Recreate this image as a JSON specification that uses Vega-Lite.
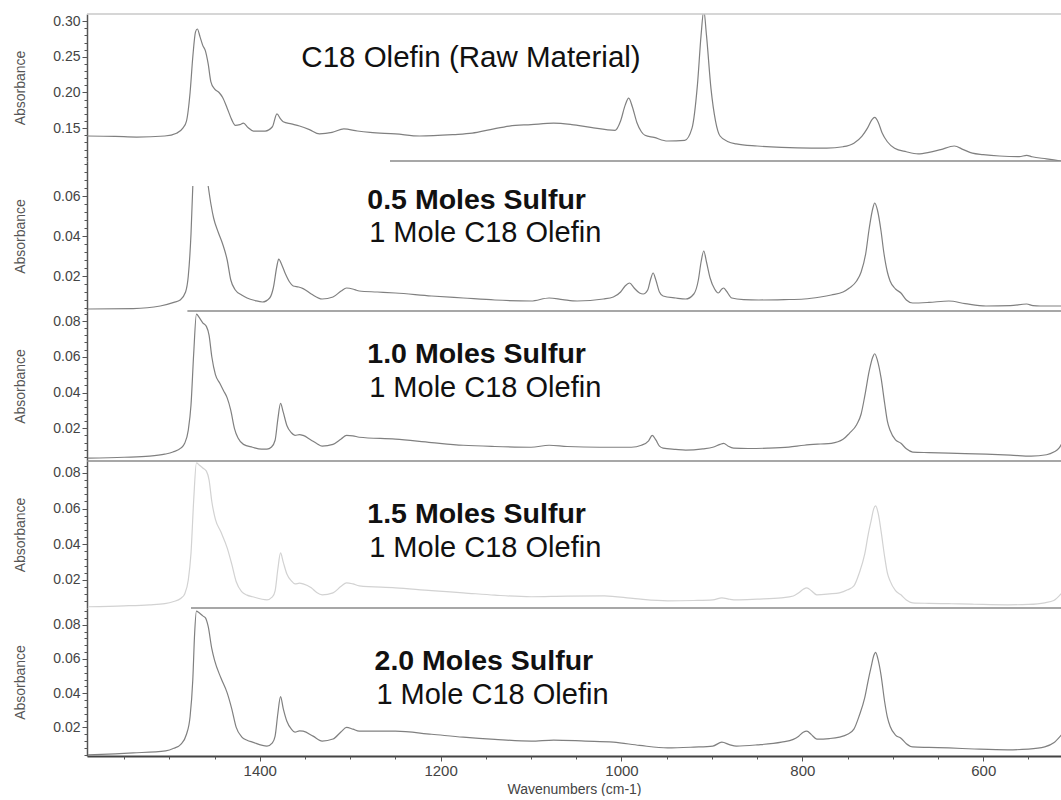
{
"$schema":"https://vega.github.io/schema/vega-lite/v6.json",
"padding":{"left":13,"top":13,"right":0,"bottom":0},
"autosize":{"type":"pad"},
"background":"white",
"spacing":0,
"bounds":"flush",
"config":{"view":{"stroke":null},"font":"Liberation Sans",
 "axis":{"grid":false,"labelFont":"Liberation Sans","titleFont":"Liberation Sans","labelColor":"#444","titleColor":"#555","titleFontWeight":"normal","tickColor":"#555","domainColor":"#555","labelFlush":false,"labelOverlap":false}},
"datasets":{
"spectra":[
{"s":"raw","g":1,"wn":1591,"a":0.139},{"s":"raw","g":1,"wn":1560,"a":0.1385},{"s":"raw","g":1,"wn":1536,"a":0.1375},{"s":"raw","g":1,"wn":1505,"a":0.139},{"s":"raw","g":1,"wn":1492,"a":0.143},{"s":"raw","g":1,"wn":1485,"a":0.15},{"s":"raw","g":1,"wn":1481,"a":0.16},{"s":"raw","g":1,"wn":1477,"a":0.2},{"s":"raw","g":1,"wn":1474,"a":0.25},{"s":"raw","g":1,"wn":1471,"a":0.285},{"s":"raw","g":1,"wn":1469,"a":0.289},{"s":"raw","g":1,"wn":1466,"a":0.278},{"s":"raw","g":1,"wn":1463,"a":0.266},{"s":"raw","g":1,"wn":1460,"a":0.258},{"s":"raw","g":1,"wn":1457,"a":0.24},{"s":"raw","g":1,"wn":1454,"a":0.215},{"s":"raw","g":1,"wn":1450,"a":0.205},{"s":"raw","g":1,"wn":1445,"a":0.2},{"s":"raw","g":1,"wn":1441,"a":0.193},{"s":"raw","g":1,"wn":1436,"a":0.178},{"s":"raw","g":1,"wn":1431,"a":0.162},{"s":"raw","g":1,"wn":1427,"a":0.154},{"s":"raw","g":1,"wn":1422,"a":0.155},{"s":"raw","g":1,"wn":1418,"a":0.157},{"s":"raw","g":1,"wn":1413,"a":0.151},{"s":"raw","g":1,"wn":1407,"a":0.146},{"s":"raw","g":1,"wn":1394,"a":0.146},{"s":"raw","g":1,"wn":1386,"a":0.152},{"s":"raw","g":1,"wn":1381,"a":0.17},{"s":"raw","g":1,"wn":1377,"a":0.163},{"s":"raw","g":1,"wn":1374,"a":0.159},{"s":"raw","g":1,"wn":1365,"a":0.156},{"s":"raw","g":1,"wn":1356,"a":0.153},{"s":"raw","g":1,"wn":1345,"a":0.148},{"s":"raw","g":1,"wn":1334,"a":0.142},{"s":"raw","g":1,"wn":1320,"a":0.144},{"s":"raw","g":1,"wn":1307,"a":0.149},{"s":"raw","g":1,"wn":1292,"a":0.146},{"s":"raw","g":1,"wn":1278,"a":0.144},{"s":"raw","g":1,"wn":1250,"a":0.142},{"s":"raw","g":1,"wn":1223,"a":0.139},{"s":"raw","g":1,"wn":1186,"a":0.141},{"s":"raw","g":1,"wn":1165,"a":0.143},{"s":"raw","g":1,"wn":1145,"a":0.148},{"s":"raw","g":1,"wn":1124,"a":0.153},{"s":"raw","g":1,"wn":1100,"a":0.155},{"s":"raw","g":1,"wn":1075,"a":0.157},{"s":"raw","g":1,"wn":1055,"a":0.155},{"s":"raw","g":1,"wn":1034,"a":0.151},{"s":"raw","g":1,"wn":1007,"a":0.147},{"s":"raw","g":1,"wn":1001,"a":0.16},{"s":"raw","g":1,"wn":996,"a":0.182},{"s":"raw","g":1,"wn":992,"a":0.192},{"s":"raw","g":1,"wn":988,"a":0.18},{"s":"raw","g":1,"wn":983,"a":0.158},{"s":"raw","g":1,"wn":978,"a":0.145},{"s":"raw","g":1,"wn":974,"a":0.14},{"s":"raw","g":1,"wn":964,"a":0.137},{"s":"raw","g":1,"wn":949,"a":0.132},{"s":"raw","g":1,"wn":930,"a":0.133},{"s":"raw","g":1,"wn":922,"a":0.15},{"s":"raw","g":1,"wn":916,"a":0.211},{"s":"raw","g":1,"wn":912,"a":0.28},{"s":"raw","g":1,"wn":909,"a":0.315},{"s":"raw","g":1,"wn":906,"a":0.28},{"s":"raw","g":1,"wn":901,"a":0.205},{"s":"raw","g":1,"wn":896,"a":0.16},{"s":"raw","g":1,"wn":891,"a":0.139},{"s":"raw","g":1,"wn":882,"a":0.131},{"s":"raw","g":1,"wn":873,"a":0.128},{"s":"raw","g":1,"wn":850,"a":0.125},{"s":"raw","g":1,"wn":823,"a":0.123},{"s":"raw","g":1,"wn":790,"a":0.122},{"s":"raw","g":1,"wn":773,"a":0.122},{"s":"raw","g":1,"wn":755,"a":0.124},{"s":"raw","g":1,"wn":743,"a":0.129},{"s":"raw","g":1,"wn":734,"a":0.139},{"s":"raw","g":1,"wn":728,"a":0.15},{"s":"raw","g":1,"wn":723,"a":0.162},{"s":"raw","g":1,"wn":720,"a":0.165},{"s":"raw","g":1,"wn":716,"a":0.158},{"s":"raw","g":1,"wn":712,"a":0.144},{"s":"raw","g":1,"wn":706,"a":0.131},{"s":"raw","g":1,"wn":698,"a":0.122},{"s":"raw","g":1,"wn":685,"a":0.117},{"s":"raw","g":1,"wn":672,"a":0.114},{"s":"raw","g":1,"wn":660,"a":0.116},{"s":"raw","g":1,"wn":647,"a":0.12},{"s":"raw","g":1,"wn":632,"a":0.125},{"s":"raw","g":1,"wn":622,"a":0.12},{"s":"raw","g":1,"wn":612,"a":0.115},{"s":"raw","g":1,"wn":600,"a":0.113},{"s":"raw","g":1,"wn":582,"a":0.111},{"s":"raw","g":1,"wn":560,"a":0.11},{"s":"raw","g":1,"wn":552,"a":0.112},{"s":"raw","g":1,"wn":546,"a":0.11},{"s":"raw","g":1,"wn":530,"a":0.107},{"s":"raw","g":1,"wn":514,"a":0.104},

{"s":"s05","g":1,"wn":1590,"a":0.0035},{"s":"s05","g":1,"wn":1540,"a":0.0037},{"s":"s05","g":1,"wn":1510,"a":0.005},{"s":"s05","g":1,"wn":1495,"a":0.0068},{"s":"s05","g":1,"wn":1488,"a":0.008},{"s":"s05","g":1,"wn":1482,"a":0.012},{"s":"s05","g":1,"wn":1479,"a":0.02},{"s":"s05","g":1,"wn":1476,"a":0.041},{"s":"s05","g":1,"wn":1474,"a":0.065},
{"s":"s05","g":2,"wn":1457,"a":0.065},{"s":"s05","g":2,"wn":1454,"a":0.056},{"s":"s05","g":2,"wn":1451,"a":0.049},{"s":"s05","g":2,"wn":1446,"a":0.042},{"s":"s05","g":2,"wn":1441,"a":0.036},{"s":"s05","g":2,"wn":1436,"a":0.028},{"s":"s05","g":2,"wn":1432,"a":0.018},{"s":"s05","g":2,"wn":1427,"a":0.013},{"s":"s05","g":2,"wn":1420,"a":0.0105},{"s":"s05","g":2,"wn":1414,"a":0.009},{"s":"s05","g":2,"wn":1405,"a":0.0077},{"s":"s05","g":2,"wn":1397,"a":0.007},{"s":"s05","g":2,"wn":1389,"a":0.009},{"s":"s05","g":2,"wn":1385,"a":0.014},{"s":"s05","g":2,"wn":1381,"a":0.025},{"s":"s05","g":2,"wn":1379,"a":0.0285},{"s":"s05","g":2,"wn":1376,"a":0.026},{"s":"s05","g":2,"wn":1372,"a":0.0215},{"s":"s05","g":2,"wn":1367,"a":0.017},{"s":"s05","g":2,"wn":1363,"a":0.015},{"s":"s05","g":2,"wn":1357,"a":0.0145},{"s":"s05","g":2,"wn":1352,"a":0.0137},{"s":"s05","g":2,"wn":1343,"a":0.011},{"s":"s05","g":2,"wn":1331,"a":0.0085},{"s":"s05","g":2,"wn":1319,"a":0.0095},{"s":"s05","g":2,"wn":1310,"a":0.0125},{"s":"s05","g":2,"wn":1304,"a":0.014},{"s":"s05","g":2,"wn":1295,"a":0.0132},{"s":"s05","g":2,"wn":1290,"a":0.0125},{"s":"s05","g":2,"wn":1270,"a":0.012},{"s":"s05","g":2,"wn":1250,"a":0.0115},{"s":"s05","g":2,"wn":1210,"a":0.01},{"s":"s05","g":2,"wn":1175,"a":0.009},{"s":"s05","g":2,"wn":1140,"a":0.008},{"s":"s05","g":2,"wn":1100,"a":0.0075},{"s":"s05","g":2,"wn":1080,"a":0.009},{"s":"s05","g":2,"wn":1065,"a":0.0082},{"s":"s05","g":2,"wn":1049,"a":0.0075},{"s":"s05","g":2,"wn":1020,"a":0.0085},{"s":"s05","g":2,"wn":1009,"a":0.0095},{"s":"s05","g":2,"wn":1001,"a":0.012},{"s":"s05","g":2,"wn":996,"a":0.015},{"s":"s05","g":2,"wn":991,"a":0.0165},{"s":"s05","g":2,"wn":986,"a":0.014},{"s":"s05","g":2,"wn":980,"a":0.0115},{"s":"s05","g":2,"wn":976,"a":0.011},{"s":"s05","g":2,"wn":971,"a":0.013},{"s":"s05","g":2,"wn":968,"a":0.018},{"s":"s05","g":2,"wn":965,"a":0.0215},{"s":"s05","g":2,"wn":962,"a":0.018},{"s":"s05","g":2,"wn":958,"a":0.012},{"s":"s05","g":2,"wn":954,"a":0.01},{"s":"s05","g":2,"wn":940,"a":0.009},{"s":"s05","g":2,"wn":929,"a":0.0085},{"s":"s05","g":2,"wn":920,"a":0.011},{"s":"s05","g":2,"wn":915,"a":0.018},{"s":"s05","g":2,"wn":912,"a":0.027},{"s":"s05","g":2,"wn":909,"a":0.0325},{"s":"s05","g":2,"wn":906,"a":0.027},{"s":"s05","g":2,"wn":902,"a":0.019},{"s":"s05","g":2,"wn":897,"a":0.0135},{"s":"s05","g":2,"wn":893,"a":0.0115},{"s":"s05","g":2,"wn":889,"a":0.0135},{"s":"s05","g":2,"wn":887,"a":0.014},{"s":"s05","g":2,"wn":884,"a":0.0125},{"s":"s05","g":2,"wn":878,"a":0.009},{"s":"s05","g":2,"wn":865,"a":0.0082},{"s":"s05","g":2,"wn":848,"a":0.008},{"s":"s05","g":2,"wn":820,"a":0.0082},{"s":"s05","g":2,"wn":798,"a":0.0085},{"s":"s05","g":2,"wn":780,"a":0.0095},{"s":"s05","g":2,"wn":768,"a":0.0105},{"s":"s05","g":2,"wn":755,"a":0.012},{"s":"s05","g":2,"wn":748,"a":0.014},{"s":"s05","g":2,"wn":740,"a":0.0175},{"s":"s05","g":2,"wn":735,"a":0.022},{"s":"s05","g":2,"wn":730,"a":0.031},{"s":"s05","g":2,"wn":726,"a":0.044},{"s":"s05","g":2,"wn":722,"a":0.054},{"s":"s05","g":2,"wn":720,"a":0.0565},{"s":"s05","g":2,"wn":717,"a":0.053},{"s":"s05","g":2,"wn":713,"a":0.0425},{"s":"s05","g":2,"wn":710,"a":0.032},{"s":"s05","g":2,"wn":706,"a":0.022},{"s":"s05","g":2,"wn":703,"a":0.0175},{"s":"s05","g":2,"wn":697,"a":0.0135},{"s":"s05","g":2,"wn":691,"a":0.0115},{"s":"s05","g":2,"wn":685,"a":0.008},{"s":"s05","g":2,"wn":678,"a":0.0065},{"s":"s05","g":2,"wn":660,"a":0.0068},{"s":"s05","g":2,"wn":638,"a":0.0075},{"s":"s05","g":2,"wn":620,"a":0.0062},{"s":"s05","g":2,"wn":597,"a":0.005},{"s":"s05","g":2,"wn":570,"a":0.0052},{"s":"s05","g":2,"wn":552,"a":0.006},{"s":"s05","g":2,"wn":545,"a":0.0052},{"s":"s05","g":2,"wn":537,"a":0.005},{"s":"s05","g":2,"wn":513,"a":0.005},

{"s":"s10","g":1,"wn":1590,"a":0.0033},{"s":"s10","g":1,"wn":1550,"a":0.0038},{"s":"s10","g":1,"wn":1522,"a":0.0044},{"s":"s10","g":1,"wn":1505,"a":0.0055},{"s":"s10","g":1,"wn":1496,"a":0.0067},{"s":"s10","g":1,"wn":1487,"a":0.009},{"s":"s10","g":1,"wn":1483,"a":0.0116},{"s":"s10","g":1,"wn":1479,"a":0.019},{"s":"s10","g":1,"wn":1476,"a":0.033},{"s":"s10","g":1,"wn":1473,"a":0.062},{"s":"s10","g":1,"wn":1470,"a":0.0839},{"s":"s10","g":1,"wn":1467,"a":0.082},{"s":"s10","g":1,"wn":1463,"a":0.079},{"s":"s10","g":1,"wn":1459,"a":0.077},{"s":"s10","g":1,"wn":1456,"a":0.072},{"s":"s10","g":1,"wn":1453,"a":0.06},{"s":"s10","g":1,"wn":1449,"a":0.05},{"s":"s10","g":1,"wn":1444,"a":0.045},{"s":"s10","g":1,"wn":1440,"a":0.041},{"s":"s10","g":1,"wn":1436,"a":0.037},{"s":"s10","g":1,"wn":1432,"a":0.03},{"s":"s10","g":1,"wn":1428,"a":0.02},{"s":"s10","g":1,"wn":1424,"a":0.0145},{"s":"s10","g":1,"wn":1418,"a":0.011},{"s":"s10","g":1,"wn":1408,"a":0.0094},{"s":"s10","g":1,"wn":1398,"a":0.0083},{"s":"s10","g":1,"wn":1392,"a":0.0083},{"s":"s10","g":1,"wn":1387,"a":0.0095},{"s":"s10","g":1,"wn":1383,"a":0.0133},{"s":"s10","g":1,"wn":1380,"a":0.025},{"s":"s10","g":1,"wn":1377,"a":0.0339},{"s":"s10","g":1,"wn":1374,"a":0.029},{"s":"s10","g":1,"wn":1370,"a":0.0216},{"s":"s10","g":1,"wn":1365,"a":0.0175},{"s":"s10","g":1,"wn":1361,"a":0.016},{"s":"s10","g":1,"wn":1356,"a":0.0165},{"s":"s10","g":1,"wn":1352,"a":0.016},{"s":"s10","g":1,"wn":1343,"a":0.0133},{"s":"s10","g":1,"wn":1337,"a":0.0115},{"s":"s10","g":1,"wn":1331,"a":0.01},{"s":"s10","g":1,"wn":1319,"a":0.011},{"s":"s10","g":1,"wn":1310,"a":0.014},{"s":"s10","g":1,"wn":1304,"a":0.016},{"s":"s10","g":1,"wn":1297,"a":0.0158},{"s":"s10","g":1,"wn":1290,"a":0.015},{"s":"s10","g":1,"wn":1250,"a":0.0139},{"s":"s10","g":1,"wn":1210,"a":0.012},{"s":"s10","g":1,"wn":1175,"a":0.0105},{"s":"s10","g":1,"wn":1140,"a":0.0098},{"s":"s10","g":1,"wn":1100,"a":0.0094},{"s":"s10","g":1,"wn":1080,"a":0.0105},{"s":"s10","g":1,"wn":1060,"a":0.0098},{"s":"s10","g":1,"wn":1024,"a":0.0094},{"s":"s10","g":1,"wn":989,"a":0.0094},{"s":"s10","g":1,"wn":978,"a":0.0105},{"s":"s10","g":1,"wn":970,"a":0.013},{"s":"s10","g":1,"wn":966,"a":0.016},{"s":"s10","g":1,"wn":962,"a":0.0135},{"s":"s10","g":1,"wn":958,"a":0.01},{"s":"s10","g":1,"wn":954,"a":0.0089},{"s":"s10","g":1,"wn":940,"a":0.0082},{"s":"s10","g":1,"wn":929,"a":0.0078},{"s":"s10","g":1,"wn":910,"a":0.0085},{"s":"s10","g":1,"wn":899,"a":0.0094},{"s":"s10","g":1,"wn":891,"a":0.011},{"s":"s10","g":1,"wn":887,"a":0.0116},{"s":"s10","g":1,"wn":882,"a":0.01},{"s":"s10","g":1,"wn":876,"a":0.0089},{"s":"s10","g":1,"wn":860,"a":0.0087},{"s":"s10","g":1,"wn":838,"a":0.0089},{"s":"s10","g":1,"wn":815,"a":0.0095},{"s":"s10","g":1,"wn":798,"a":0.0105},{"s":"s10","g":1,"wn":780,"a":0.0112},{"s":"s10","g":1,"wn":768,"a":0.0116},{"s":"s10","g":1,"wn":755,"a":0.0138},{"s":"s10","g":1,"wn":748,"a":0.0172},{"s":"s10","g":1,"wn":740,"a":0.022},{"s":"s10","g":1,"wn":735,"a":0.028},{"s":"s10","g":1,"wn":731,"a":0.038},{"s":"s10","g":1,"wn":726,"a":0.0522},{"s":"s10","g":1,"wn":722,"a":0.06},{"s":"s10","g":1,"wn":720,"a":0.0617},{"s":"s10","g":1,"wn":717,"a":0.058},{"s":"s10","g":1,"wn":713,"a":0.0483},{"s":"s10","g":1,"wn":709,"a":0.034},{"s":"s10","g":1,"wn":706,"a":0.024},{"s":"s10","g":1,"wn":703,"a":0.0189},{"s":"s10","g":1,"wn":697,"a":0.0135},{"s":"s10","g":1,"wn":691,"a":0.0116},{"s":"s10","g":1,"wn":685,"a":0.0085},{"s":"s10","g":1,"wn":678,"a":0.0067},{"s":"s10","g":1,"wn":660,"a":0.0064},{"s":"s10","g":1,"wn":638,"a":0.0061},{"s":"s10","g":1,"wn":620,"a":0.0058},{"s":"s10","g":1,"wn":597,"a":0.0055},{"s":"s10","g":1,"wn":570,"a":0.005},{"s":"s10","g":1,"wn":547,"a":0.0044},{"s":"s10","g":1,"wn":530,"a":0.0052},{"s":"s10","g":1,"wn":522,"a":0.0067},{"s":"s10","g":1,"wn":516,"a":0.009},{"s":"s10","g":1,"wn":513,"a":0.0116},

{"s":"s15","g":1,"wn":1590,"a":0.005},{"s":"s15","g":1,"wn":1550,"a":0.0055},{"s":"s15","g":1,"wn":1522,"a":0.0061},{"s":"s15","g":1,"wn":1505,"a":0.0068},{"s":"s15","g":1,"wn":1496,"a":0.0078},{"s":"s15","g":1,"wn":1487,"a":0.0098},{"s":"s15","g":1,"wn":1483,"a":0.0122},{"s":"s15","g":1,"wn":1479,"a":0.02},{"s":"s15","g":1,"wn":1476,"a":0.035},{"s":"s15","g":1,"wn":1473,"a":0.065},{"s":"s15","g":1,"wn":1470,"a":0.0856},{"s":"s15","g":1,"wn":1467,"a":0.0845},{"s":"s15","g":1,"wn":1463,"a":0.0828},{"s":"s15","g":1,"wn":1459,"a":0.081},{"s":"s15","g":1,"wn":1456,"a":0.076},{"s":"s15","g":1,"wn":1453,"a":0.064},{"s":"s15","g":1,"wn":1449,"a":0.054},{"s":"s15","g":1,"wn":1443,"a":0.047},{"s":"s15","g":1,"wn":1436,"a":0.038},{"s":"s15","g":1,"wn":1431,"a":0.029},{"s":"s15","g":1,"wn":1426,"a":0.019},{"s":"s15","g":1,"wn":1420,"a":0.0135},{"s":"s15","g":1,"wn":1414,"a":0.0115},{"s":"s15","g":1,"wn":1408,"a":0.0106},{"s":"s15","g":1,"wn":1392,"a":0.0089},{"s":"s15","g":1,"wn":1386,"a":0.0105},{"s":"s15","g":1,"wn":1383,"a":0.0139},{"s":"s15","g":1,"wn":1380,"a":0.026},{"s":"s15","g":1,"wn":1377,"a":0.0352},{"s":"s15","g":1,"wn":1374,"a":0.03},{"s":"s15","g":1,"wn":1370,"a":0.0234},{"s":"s15","g":1,"wn":1365,"a":0.0195},{"s":"s15","g":1,"wn":1361,"a":0.0178},{"s":"s15","g":1,"wn":1356,"a":0.0182},{"s":"s15","g":1,"wn":1352,"a":0.0178},{"s":"s15","g":1,"wn":1343,"a":0.0156},{"s":"s15","g":1,"wn":1337,"a":0.013},{"s":"s15","g":1,"wn":1331,"a":0.0117},{"s":"s15","g":1,"wn":1319,"a":0.0128},{"s":"s15","g":1,"wn":1310,"a":0.0165},{"s":"s15","g":1,"wn":1304,"a":0.0184},{"s":"s15","g":1,"wn":1297,"a":0.0178},{"s":"s15","g":1,"wn":1290,"a":0.0167},{"s":"s15","g":1,"wn":1250,"a":0.0156},{"s":"s15","g":1,"wn":1210,"a":0.014},{"s":"s15","g":1,"wn":1175,"a":0.0128},{"s":"s15","g":1,"wn":1140,"a":0.0115},{"s":"s15","g":1,"wn":1100,"a":0.0106},{"s":"s15","g":1,"wn":1060,"a":0.011},{"s":"s15","g":1,"wn":1019,"a":0.0111},{"s":"s15","g":1,"wn":985,"a":0.0095},{"s":"s15","g":1,"wn":949,"a":0.0083},{"s":"s15","g":1,"wn":920,"a":0.0085},{"s":"s15","g":1,"wn":899,"a":0.0089},{"s":"s15","g":1,"wn":889,"a":0.01},{"s":"s15","g":1,"wn":880,"a":0.0092},{"s":"s15","g":1,"wn":873,"a":0.0089},{"s":"s15","g":1,"wn":850,"a":0.0093},{"s":"s15","g":1,"wn":823,"a":0.01},{"s":"s15","g":1,"wn":810,"a":0.011},{"s":"s15","g":1,"wn":804,"a":0.0128},{"s":"s15","g":1,"wn":799,"a":0.0148},{"s":"s15","g":1,"wn":795,"a":0.0156},{"s":"s15","g":1,"wn":790,"a":0.014},{"s":"s15","g":1,"wn":784,"a":0.0117},{"s":"s15","g":1,"wn":770,"a":0.0122},{"s":"s15","g":1,"wn":759,"a":0.0128},{"s":"s15","g":1,"wn":750,"a":0.0145},{"s":"s15","g":1,"wn":743,"a":0.0167},{"s":"s15","g":1,"wn":737,"a":0.024},{"s":"s15","g":1,"wn":731,"a":0.0346},{"s":"s15","g":1,"wn":727,"a":0.046},{"s":"s15","g":1,"wn":724,"a":0.0531},{"s":"s15","g":1,"wn":721,"a":0.06},{"s":"s15","g":1,"wn":719,"a":0.0615},{"s":"s15","g":1,"wn":716,"a":0.057},{"s":"s15","g":1,"wn":713,"a":0.0475},{"s":"s15","g":1,"wn":709,"a":0.033},{"s":"s15","g":1,"wn":706,"a":0.024},{"s":"s15","g":1,"wn":703,"a":0.0195},{"s":"s15","g":1,"wn":697,"a":0.014},{"s":"s15","g":1,"wn":691,"a":0.0117},{"s":"s15","g":1,"wn":685,"a":0.0088},{"s":"s15","g":1,"wn":678,"a":0.0072},{"s":"s15","g":1,"wn":660,"a":0.0069},{"s":"s15","g":1,"wn":638,"a":0.0067},{"s":"s15","g":1,"wn":610,"a":0.0064},{"s":"s15","g":1,"wn":573,"a":0.0061},{"s":"s15","g":1,"wn":550,"a":0.0063},{"s":"s15","g":1,"wn":532,"a":0.0072},{"s":"s15","g":1,"wn":522,"a":0.0085},{"s":"s15","g":1,"wn":513,"a":0.0128},

{"s":"s20","g":1,"wn":1590,"a":0.004},{"s":"s20","g":1,"wn":1560,"a":0.0046},{"s":"s20","g":1,"wn":1540,"a":0.0051},{"s":"s20","g":1,"wn":1504,"a":0.0063},{"s":"s20","g":1,"wn":1495,"a":0.0078},{"s":"s20","g":1,"wn":1487,"a":0.0103},{"s":"s20","g":1,"wn":1481,"a":0.016},{"s":"s20","g":1,"wn":1477,"a":0.0264},{"s":"s20","g":1,"wn":1474,"a":0.048},{"s":"s20","g":1,"wn":1472,"a":0.0748},{"s":"s20","g":1,"wn":1470,"a":0.088},{"s":"s20","g":1,"wn":1467,"a":0.087},{"s":"s20","g":1,"wn":1463,"a":0.0852},{"s":"s20","g":1,"wn":1460,"a":0.084},{"s":"s20","g":1,"wn":1457,"a":0.079},{"s":"s20","g":1,"wn":1453,"a":0.066},{"s":"s20","g":1,"wn":1450,"a":0.0593},{"s":"s20","g":1,"wn":1443,"a":0.049},{"s":"s20","g":1,"wn":1436,"a":0.0402},{"s":"s20","g":1,"wn":1431,"a":0.031},{"s":"s20","g":1,"wn":1426,"a":0.02},{"s":"s20","g":1,"wn":1420,"a":0.0145},{"s":"s20","g":1,"wn":1414,"a":0.0125},{"s":"s20","g":1,"wn":1408,"a":0.0114},{"s":"s20","g":1,"wn":1392,"a":0.0091},{"s":"s20","g":1,"wn":1386,"a":0.011},{"s":"s20","g":1,"wn":1383,"a":0.0149},{"s":"s20","g":1,"wn":1380,"a":0.028},{"s":"s20","g":1,"wn":1377,"a":0.038},{"s":"s20","g":1,"wn":1374,"a":0.031},{"s":"s20","g":1,"wn":1370,"a":0.0236},{"s":"s20","g":1,"wn":1365,"a":0.019},{"s":"s20","g":1,"wn":1361,"a":0.0172},{"s":"s20","g":1,"wn":1356,"a":0.018},{"s":"s20","g":1,"wn":1352,"a":0.0178},{"s":"s20","g":1,"wn":1341,"a":0.0149},{"s":"s20","g":1,"wn":1331,"a":0.012},{"s":"s20","g":1,"wn":1319,"a":0.0132},{"s":"s20","g":1,"wn":1310,"a":0.0175},{"s":"s20","g":1,"wn":1304,"a":0.02},{"s":"s20","g":1,"wn":1297,"a":0.019},{"s":"s20","g":1,"wn":1290,"a":0.0178},{"s":"s20","g":1,"wn":1250,"a":0.0178},{"s":"s20","g":1,"wn":1210,"a":0.016},{"s":"s20","g":1,"wn":1175,"a":0.0143},{"s":"s20","g":1,"wn":1140,"a":0.013},{"s":"s20","g":1,"wn":1100,"a":0.012},{"s":"s20","g":1,"wn":1075,"a":0.0126},{"s":"s20","g":1,"wn":1040,"a":0.012},{"s":"s20","g":1,"wn":1009,"a":0.0114},{"s":"s20","g":1,"wn":980,"a":0.0095},{"s":"s20","g":1,"wn":949,"a":0.008},{"s":"s20","g":1,"wn":920,"a":0.0085},{"s":"s20","g":1,"wn":899,"a":0.0091},{"s":"s20","g":1,"wn":889,"a":0.0114},{"s":"s20","g":1,"wn":880,"a":0.0098},{"s":"s20","g":1,"wn":873,"a":0.0091},{"s":"s20","g":1,"wn":850,"a":0.0098},{"s":"s20","g":1,"wn":823,"a":0.0114},{"s":"s20","g":1,"wn":810,"a":0.013},{"s":"s20","g":1,"wn":804,"a":0.0149},{"s":"s20","g":1,"wn":799,"a":0.0172},{"s":"s20","g":1,"wn":795,"a":0.0178},{"s":"s20","g":1,"wn":790,"a":0.0158},{"s":"s20","g":1,"wn":784,"a":0.0132},{"s":"s20","g":1,"wn":770,"a":0.0135},{"s":"s20","g":1,"wn":759,"a":0.0143},{"s":"s20","g":1,"wn":750,"a":0.016},{"s":"s20","g":1,"wn":743,"a":0.019},{"s":"s20","g":1,"wn":737,"a":0.027},{"s":"s20","g":1,"wn":731,"a":0.0374},{"s":"s20","g":1,"wn":727,"a":0.048},{"s":"s20","g":1,"wn":724,"a":0.0552},{"s":"s20","g":1,"wn":721,"a":0.062},{"s":"s20","g":1,"wn":719,"a":0.0639},{"s":"s20","g":1,"wn":716,"a":0.059},{"s":"s20","g":1,"wn":713,"a":0.0506},{"s":"s20","g":1,"wn":709,"a":0.035},{"s":"s20","g":1,"wn":706,"a":0.026},{"s":"s20","g":1,"wn":703,"a":0.0207},{"s":"s20","g":1,"wn":697,"a":0.0155},{"s":"s20","g":1,"wn":691,"a":0.0137},{"s":"s20","g":1,"wn":685,"a":0.0105},{"s":"s20","g":1,"wn":678,"a":0.0086},{"s":"s20","g":1,"wn":660,"a":0.0083},{"s":"s20","g":1,"wn":638,"a":0.008},{"s":"s20","g":1,"wn":610,"a":0.0074},{"s":"s20","g":1,"wn":573,"a":0.0069},{"s":"s20","g":1,"wn":550,"a":0.0073},{"s":"s20","g":1,"wn":532,"a":0.0086},{"s":"s20","g":1,"wn":522,"a":0.011},{"s":"s20","g":1,"wn":513,"a":0.016}
],
"notes":[
{"s":"raw","role":"plain","text":"C18 Olefin (Raw Material)","wn":1354,"a":0.248},
{"s":"s05","role":"bold","text":"0.5 Moles Sulfur","wn":1281,"a":0.058},
{"s":"s05","role":"plain","text":"1 Mole C18 Olefin","wn":1279,"a":0.0415},
{"s":"s10","role":"bold","text":"1.0 Moles Sulfur","wn":1281,"a":0.0617},
{"s":"s10","role":"plain","text":"1 Mole C18 Olefin","wn":1279,"a":0.0428},
{"s":"s15","role":"bold","text":"1.5 Moles Sulfur","wn":1281,"a":0.057},
{"s":"s15","role":"plain","text":"1 Mole C18 Olefin","wn":1279,"a":0.038},
{"s":"s20","role":"bold","text":"2.0 Moles Sulfur","wn":1273,"a":0.0587},
{"s":"s20","role":"plain","text":"1 Mole C18 Olefin","wn":1271,"a":0.0391}
],
"frames":[
{"s":"raw","wn":1591,"wn2":514,"a":0.31},
{"s":"s05","wn":1256,"wn2":514,"a":0.0775},
{"s":"s10","wn":1480,"wn2":514,"a":0.0856},
{"s":"s15","wn":1591,"wn2":514,"a":0.0867},
{"s":"s20","wn":1476,"wn2":514,"a":0.0898}
]
},
"vconcat":[
{"width":974,"height":147,"resolve":{"axis":{"y":"independent"}},
 "layer":[
  {"data":{"name":"spectra"},"transform":[{"filter":"datum.s === 'raw'"}],
   "mark":{"type":"line","color":"#808080","strokeWidth":1.2,"clip":true,"interpolate":"monotone"},
   "encoding":{"x":{"field":"wn","type":"quantitative","scale":{"domain":[514,1591],"reverse":true,"nice":false,"zero":false},"axis":null},
    "y":{"field":"a","type":"quantitative","scale":{"domain":[0.104,0.31],"nice":false,"zero":false},
     "axis":{"orient":"left","values":[0.15,0.2,0.25,0.3],"format":".2f","title":"Absorbance","labelFontSize":14,"titleFontSize":14,"tickSize":5,"labelPadding":2,"domainWidth":1.5,"minExtent":40,"maxExtent":40,"titlePadding":20}},
    "detail":{"field":"g","type":"nominal"}}},
  {"data":{"name":"frames"},"transform":[{"filter":"datum.s === 'raw'"}],
   "mark":{"type":"rule","color":"#c8c8c8","strokeWidth":1.5},
   "encoding":{"x":{"field":"wn","type":"quantitative","scale":{"domain":[514,1591],"reverse":true,"nice":false,"zero":false},"axis":null},"x2":{"field":"wn2"},
    "y":{"field":"a","type":"quantitative","scale":{"domain":[0.104,0.31],"nice":false,"zero":false},
     "axis":{"orient":"left","values":[0.11,0.12,0.13,0.14,0.15,0.16,0.17,0.18,0.19,0.2,0.21,0.22,0.23,0.24,0.25,0.26,0.27,0.28,0.29,0.3],"labels":false,"domain":false,"tickSize":3,"title":null}}}},
  {"data":{"name":"notes"},"transform":[{"filter":"datum.s === 'raw'"}],
   "mark":{"type":"text","align":"left","baseline":"middle","fontSize":29.5,"color":"#111","font":"Liberation Sans"},
   "encoding":{"x":{"field":"wn","type":"quantitative","scale":{"domain":[514,1591],"reverse":true,"nice":false,"zero":false},"axis":null},
    "y":{"field":"a","type":"quantitative","scale":{"domain":[0.104,0.31],"nice":false,"zero":false},"axis":null},"text":{"field":"text"}}}
 ]},
{"width":974,"height":150,"resolve":{"axis":{"y":"independent"}},
 "layer":[
  {"data":{"name":"spectra"},"transform":[{"filter":"datum.s === 's05'"}],
   "mark":{"type":"line","color":"#808080","strokeWidth":1.2,"clip":true,"interpolate":"monotone"},
   "encoding":{"x":{"field":"wn","type":"quantitative","scale":{"domain":[514,1591],"reverse":true,"nice":false,"zero":false},"axis":null},
    "y":{"field":"a","type":"quantitative","scale":{"domain":[0.0025,0.0775],"nice":false,"zero":false},
     "axis":{"orient":"left","values":[0.02,0.04,0.06],"format":".2f","title":"Absorbance","labelFontSize":14,"titleFontSize":14,"tickSize":5,"labelPadding":2,"domainWidth":1.5,"minExtent":40,"maxExtent":40,"titlePadding":20}},
    "detail":{"field":"g","type":"nominal"}}},
  {"data":{"name":"frames"},"transform":[{"filter":"datum.s === 's05'"}],
   "mark":{"type":"rule","color":"#8a8a8a","strokeWidth":1.5},
   "encoding":{"x":{"field":"wn","type":"quantitative","scale":{"domain":[514,1591],"reverse":true,"nice":false,"zero":false},"axis":null},"x2":{"field":"wn2"},
    "y":{"field":"a","type":"quantitative","scale":{"domain":[0.0025,0.0775],"nice":false,"zero":false},
     "axis":{"orient":"left","values":[0.004,0.008,0.012,0.016,0.02,0.024,0.028,0.032,0.036,0.04,0.044,0.048,0.052,0.056,0.06,0.064,0.068,0.072,0.076],"labels":false,"domain":false,"tickSize":3,"title":null}}}},
  {"data":{"name":"notes"},"transform":[{"filter":"datum.s === 's05' && datum.role === 'bold'"}],
   "mark":{"type":"text","align":"left","baseline":"middle","fontSize":28.5,"fontWeight":"bold","color":"#111","font":"Liberation Sans"},
   "encoding":{"x":{"field":"wn","type":"quantitative","scale":{"domain":[514,1591],"reverse":true,"nice":false,"zero":false},"axis":null},
    "y":{"field":"a","type":"quantitative","scale":{"domain":[0.0025,0.0775],"nice":false,"zero":false},"axis":null},"text":{"field":"text"}}},
  {"data":{"name":"notes"},"transform":[{"filter":"datum.s === 's05' && datum.role === 'plain'"}],
   "mark":{"type":"text","align":"left","baseline":"middle","fontSize":29,"color":"#111","font":"Liberation Sans"},
   "encoding":{"x":{"field":"wn","type":"quantitative","scale":{"domain":[514,1591],"reverse":true,"nice":false,"zero":false},"axis":null},
    "y":{"field":"a","type":"quantitative","scale":{"domain":[0.0025,0.0775],"nice":false,"zero":false},"axis":null},"text":{"field":"text"}}}
 ]},
{"width":974,"height":150,"resolve":{"axis":{"y":"independent"}},
 "layer":[
  {"data":{"name":"spectra"},"transform":[{"filter":"datum.s === 's10'"}],
   "mark":{"type":"line","color":"#808080","strokeWidth":1.2,"clip":true,"interpolate":"monotone"},
   "encoding":{"x":{"field":"wn","type":"quantitative","scale":{"domain":[514,1591],"reverse":true,"nice":false,"zero":false},"axis":null},
    "y":{"field":"a","type":"quantitative","scale":{"domain":[0.0017,0.0856],"nice":false,"zero":false},
     "axis":{"orient":"left","values":[0.02,0.04,0.06,0.08],"format":".2f","title":"Absorbance","labelFontSize":14,"titleFontSize":14,"tickSize":5,"labelPadding":2,"domainWidth":1.5,"minExtent":40,"maxExtent":40,"titlePadding":20}},
    "detail":{"field":"g","type":"nominal"}}},
  {"data":{"name":"frames"},"transform":[{"filter":"datum.s === 's10'"}],
   "mark":{"type":"rule","color":"#8a8a8a","strokeWidth":1.5},
   "encoding":{"x":{"field":"wn","type":"quantitative","scale":{"domain":[514,1591],"reverse":true,"nice":false,"zero":false},"axis":null},"x2":{"field":"wn2"},
    "y":{"field":"a","type":"quantitative","scale":{"domain":[0.0017,0.0856],"nice":false,"zero":false},
     "axis":{"orient":"left","values":[0.004,0.008,0.012,0.016,0.02,0.024,0.028,0.032,0.036,0.04,0.044,0.048,0.052,0.056,0.06,0.064,0.068,0.072,0.076,0.08,0.084],"labels":false,"domain":false,"tickSize":3,"title":null}}}},
  {"data":{"name":"notes"},"transform":[{"filter":"datum.s === 's10' && datum.role === 'bold'"}],
   "mark":{"type":"text","align":"left","baseline":"middle","fontSize":28.5,"fontWeight":"bold","color":"#111","font":"Liberation Sans"},
   "encoding":{"x":{"field":"wn","type":"quantitative","scale":{"domain":[514,1591],"reverse":true,"nice":false,"zero":false},"axis":null},
    "y":{"field":"a","type":"quantitative","scale":{"domain":[0.0017,0.0856],"nice":false,"zero":false},"axis":null},"text":{"field":"text"}}},
  {"data":{"name":"notes"},"transform":[{"filter":"datum.s === 's10' && datum.role === 'plain'"}],
   "mark":{"type":"text","align":"left","baseline":"middle","fontSize":29,"color":"#111","font":"Liberation Sans"},
   "encoding":{"x":{"field":"wn","type":"quantitative","scale":{"domain":[514,1591],"reverse":true,"nice":false,"zero":false},"axis":null},
    "y":{"field":"a","type":"quantitative","scale":{"domain":[0.0017,0.0856],"nice":false,"zero":false},"axis":null},"text":{"field":"text"}}}
 ]},
{"width":974,"height":147,"resolve":{"axis":{"y":"independent"}},
 "layer":[
  {"data":{"name":"spectra"},"transform":[{"filter":"datum.s === 's15'"}],
   "mark":{"type":"line","color":"#d2d2d2","strokeWidth":1.2,"clip":true,"interpolate":"monotone"},
   "encoding":{"x":{"field":"wn","type":"quantitative","scale":{"domain":[514,1591],"reverse":true,"nice":false,"zero":false},"axis":null},
    "y":{"field":"a","type":"quantitative","scale":{"domain":[0.0043,0.0867],"nice":false,"zero":false},
     "axis":{"orient":"left","values":[0.02,0.04,0.06,0.08],"format":".2f","title":"Absorbance","labelFontSize":14,"titleFontSize":14,"tickSize":5,"labelPadding":2,"domainWidth":1.5,"minExtent":40,"maxExtent":40,"titlePadding":20}},
    "detail":{"field":"g","type":"nominal"}}},
  {"data":{"name":"frames"},"transform":[{"filter":"datum.s === 's15'"}],
   "mark":{"type":"rule","color":"#8a8a8a","strokeWidth":1.5},
   "encoding":{"x":{"field":"wn","type":"quantitative","scale":{"domain":[514,1591],"reverse":true,"nice":false,"zero":false},"axis":null},"x2":{"field":"wn2"},
    "y":{"field":"a","type":"quantitative","scale":{"domain":[0.0043,0.0867],"nice":false,"zero":false},
     "axis":{"orient":"left","values":[0.008,0.012,0.016,0.02,0.024,0.028,0.032,0.036,0.04,0.044,0.048,0.052,0.056,0.06,0.064,0.068,0.072,0.076,0.08,0.084],"labels":false,"domain":false,"tickSize":3,"title":null}}}},
  {"data":{"name":"notes"},"transform":[{"filter":"datum.s === 's15' && datum.role === 'bold'"}],
   "mark":{"type":"text","align":"left","baseline":"middle","fontSize":28.5,"fontWeight":"bold","color":"#111","font":"Liberation Sans"},
   "encoding":{"x":{"field":"wn","type":"quantitative","scale":{"domain":[514,1591],"reverse":true,"nice":false,"zero":false},"axis":null},
    "y":{"field":"a","type":"quantitative","scale":{"domain":[0.0043,0.0867],"nice":false,"zero":false},"axis":null},"text":{"field":"text"}}},
  {"data":{"name":"notes"},"transform":[{"filter":"datum.s === 's15' && datum.role === 'plain'"}],
   "mark":{"type":"text","align":"left","baseline":"middle","fontSize":29,"color":"#111","font":"Liberation Sans"},
   "encoding":{"x":{"field":"wn","type":"quantitative","scale":{"domain":[514,1591],"reverse":true,"nice":false,"zero":false},"axis":null},
    "y":{"field":"a","type":"quantitative","scale":{"domain":[0.0043,0.0867],"nice":false,"zero":false},"axis":null},"text":{"field":"text"}}}
 ]},
{"width":974,"height":148,"resolve":{"axis":{"y":"independent","x":"independent"}},
 "layer":[
  {"data":{"name":"spectra"},"transform":[{"filter":"datum.s === 's20'"}],
   "mark":{"type":"line","color":"#808080","strokeWidth":1.2,"clip":true,"interpolate":"monotone"},
   "encoding":{"x":{"field":"wn","type":"quantitative","scale":{"domain":[514,1591],"reverse":true,"nice":false,"zero":false},
     "axis":{"orient":"bottom","values":[600,800,1000,1200,1400],"format":"d","title":"Wavenumbers (cm-1)","titleFontSize":14,"titleColor":"#444","labelFontSize":15,"labelColor":"#444","tickSize":5,"domainColor":"#444","domainWidth":2,"labelPadding":2,"titlePadding":4}},
    "y":{"field":"a","type":"quantitative","scale":{"domain":[0.0033,0.0898],"nice":false,"zero":false},
     "axis":{"orient":"left","values":[0.02,0.04,0.06,0.08],"format":".2f","title":"Absorbance","labelFontSize":14,"titleFontSize":14,"tickSize":5,"labelPadding":2,"domainWidth":1.5,"minExtent":40,"maxExtent":40,"titlePadding":20}},
    "detail":{"field":"g","type":"nominal"}}},
  {"data":{"name":"frames"},"transform":[{"filter":"datum.s === 's20'"}],
   "mark":{"type":"rule","color":"#8a8a8a","strokeWidth":1.5},
   "encoding":{"x":{"field":"wn","type":"quantitative","scale":{"domain":[514,1591],"reverse":true,"nice":false,"zero":false},
     "axis":{"orient":"bottom","values":[550,600,650,700,750,800,850,900,950,1000,1050,1100,1150,1200,1250,1300,1350,1400,1450,1500,1550],"labels":false,"domain":false,"tickSize":3,"title":null}},"x2":{"field":"wn2"},
    "y":{"field":"a","type":"quantitative","scale":{"domain":[0.0033,0.0898],"nice":false,"zero":false},
     "axis":{"orient":"left","values":[0.004,0.008,0.012,0.016,0.02,0.024,0.028,0.032,0.036,0.04,0.044,0.048,0.052,0.056,0.06,0.064,0.068,0.072,0.076,0.08,0.084,0.088],"labels":false,"domain":false,"tickSize":3,"title":null}}}},
  {"data":{"name":"notes"},"transform":[{"filter":"datum.s === 's20' && datum.role === 'bold'"}],
   "mark":{"type":"text","align":"left","baseline":"middle","fontSize":28.5,"fontWeight":"bold","color":"#111","font":"Liberation Sans"},
   "encoding":{"x":{"field":"wn","type":"quantitative","scale":{"domain":[514,1591],"reverse":true,"nice":false,"zero":false},"axis":null},
    "y":{"field":"a","type":"quantitative","scale":{"domain":[0.0033,0.0898],"nice":false,"zero":false},"axis":null},"text":{"field":"text"}}},
  {"data":{"name":"notes"},"transform":[{"filter":"datum.s === 's20' && datum.role === 'plain'"}],
   "mark":{"type":"text","align":"left","baseline":"middle","fontSize":29,"color":"#111","font":"Liberation Sans"},
   "encoding":{"x":{"field":"wn","type":"quantitative","scale":{"domain":[514,1591],"reverse":true,"nice":false,"zero":false},"axis":null},
    "y":{"field":"a","type":"quantitative","scale":{"domain":[0.0033,0.0898],"nice":false,"zero":false},"axis":null},"text":{"field":"text"}}}
 ]}
]
}
